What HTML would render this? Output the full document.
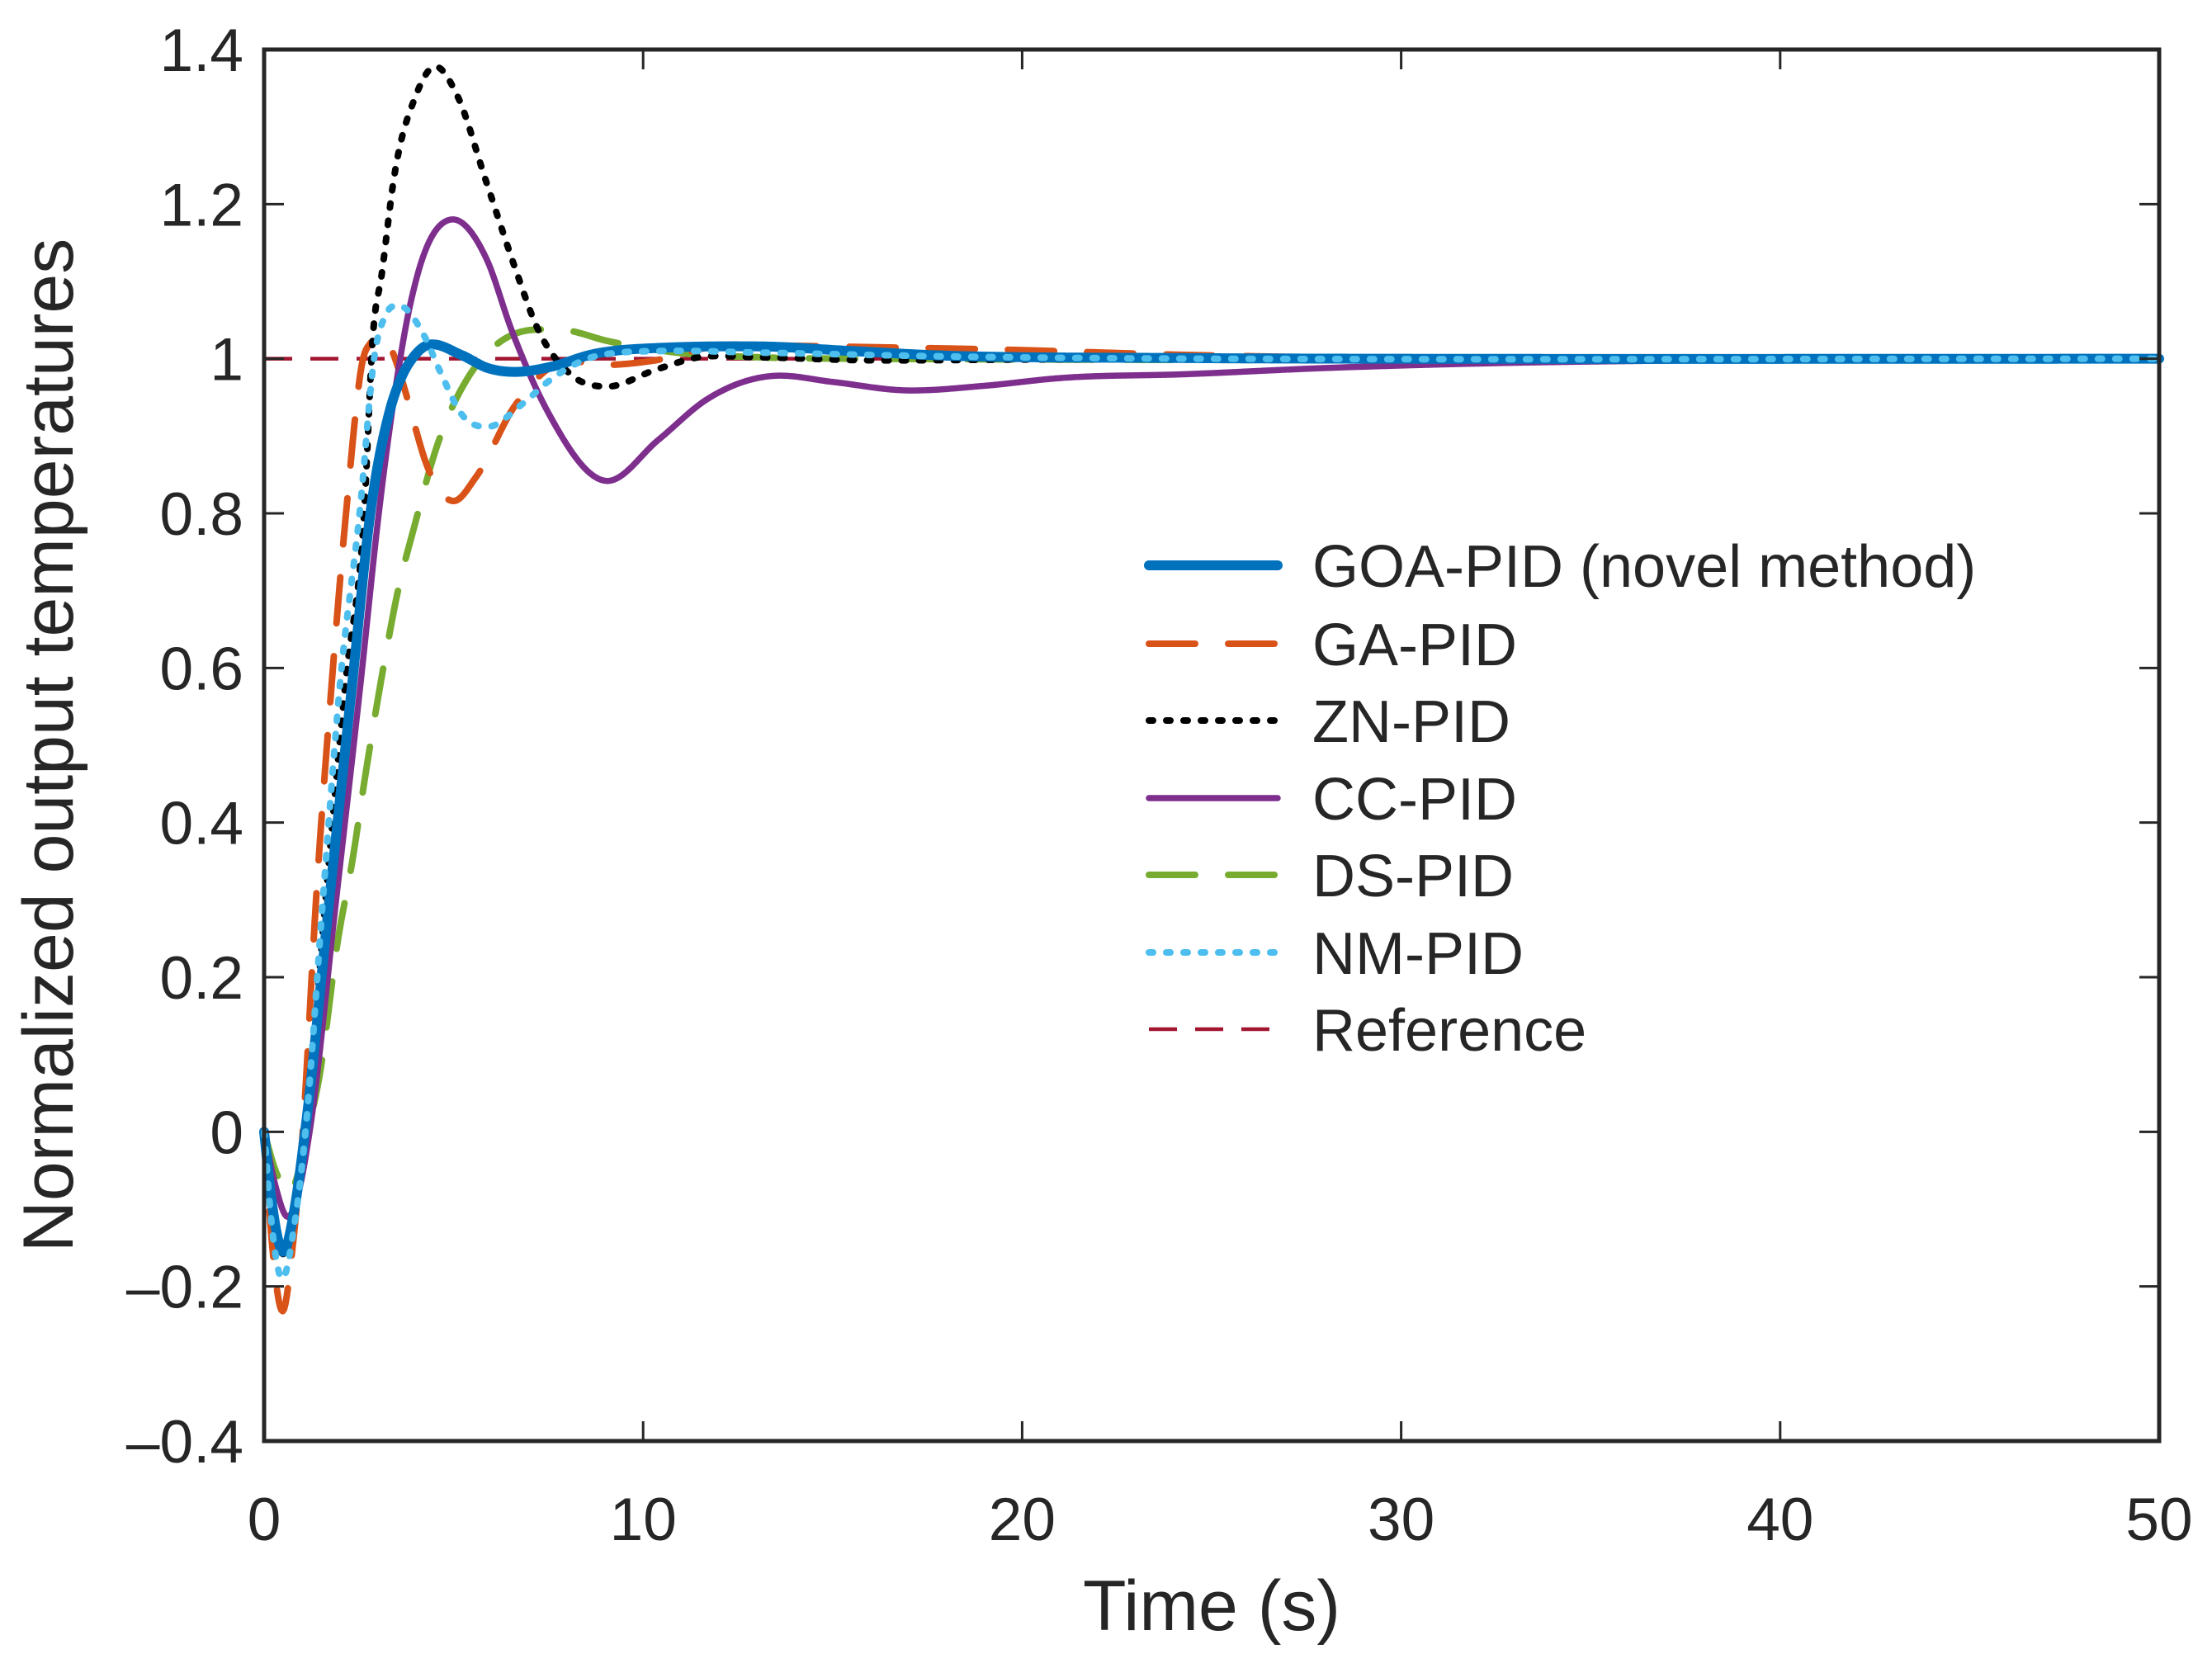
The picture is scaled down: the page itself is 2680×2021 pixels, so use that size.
<!DOCTYPE html>
<html><head><meta charset="utf-8"><style>
html,body{margin:0;padding:0;background:#fff}
svg{display:block}
text{font-family:"Liberation Sans",Arial,sans-serif;fill:#262626}
</style></head><body>
<svg id="chart" width="2680" height="2021" viewBox="0 0 2680 2021" xmlns="http://www.w3.org/2000/svg">
<rect width="2680" height="2021" fill="#fff"/>
<g id="series"></g>
<g id="axes"></g>
<g id="legend"></g>
<text x="1468" y="1975" font-size="86" text-anchor="middle">Time (s)</text>
<text x="0" y="0" font-size="86" text-anchor="middle" transform="translate(88,903) rotate(-90)">Normalized output temperatures</text>
</svg>
<script>
const xTicks=[0,10,20,30,40,50];
const yTicks=[-0.4,-0.2,0,0.2,0.4,0.6,0.8,1,1.2,1.4];
const yTickLabels=["\u20130.4","\u20130.2","0","0.2","0.4","0.6","0.8","1","1.2","1.4"];
const seriesNames=["GOA-PID (novel method)","GA-PID","ZN-PID","CC-PID","DS-PID","NM-PID","Reference"];
const goaT=[0,0.2,0.5,0.8,1.08,1.72,2.32,2.83,3.3,3.66,3.92,4.34,5.2,5.9,6.57,7.6,8.6,10.4,13,15.5,18,24,30,50];
const goaV=[0,-0.09,-0.155,-0.1,0,0.3,0.578,0.81,0.93,0.98,1.001,1.018,1.005,0.988,0.983,0.99,1.005,1.014,1.016,1.01,1.004,1.001,1,1];
const gaT=[0,0.2,0.49,0.75,1.02,1.37,1.78,2.18,2.61,2.8,3.0,3.27,3.7,3.92,4.28,5.0,5.59,6.6,7.9,8.97,10.2,12.2,13.65,16,19.3,24.3,30,50];
const gaV=[0,-0.14,-0.232,-0.15,0,0.3,0.578,0.81,1.0,1.02,1.028,1.02,0.962,0.923,0.864,0.816,0.847,0.938,0.996,0.992,0.997,1.018,1.017,1.015,1.012,1.005,1.001,1];
const znT=[0,0.2,0.5,0.8,1.1,1.62,2.14,2.65,2.87,3.1,3.42,4.0,4.5,5.1,5.84,6.66,7.17,8.08,9.0,10.4,11.65,13,16,20,30,50];
const znV=[0,-0.1,-0.158,-0.11,0,0.3,0.578,0.81,1.03,1.108,1.232,1.34,1.378,1.34,1.232,1.112,1.044,0.98,0.964,0.987,1.003,1.002,0.998,0.999,1,1];
const ccT=[0,0.3,0.62,0.95,1.2,1.9,2.54,3.05,3.59,3.77,4.0,4.92,5.86,6.53,7.5,9.03,10.4,11.7,13.5,15,17,19,21,24.3,28,32.2,38,45,50];
const ccV=[0,-0.07,-0.11,-0.07,0,0.3,0.578,0.81,1.0,1.05,1.1,1.18,1.13,1.037,0.93,0.842,0.895,0.948,0.978,0.97,0.959,0.965,0.975,0.98,0.988,0.994,0.998,1,1];
const dsT=[0,0.3,0.69,0.94,1.15,1.45,1.96,2.32,2.68,3.27,3.48,3.99,4.54,5.41,5.9,7.0,7.9,9.06,11.06,13,16,50];
const dsV=[0,-0.05,-0.078,-0.046,0,0.069,0.252,0.348,0.464,0.634,0.688,0.788,0.884,0.978,1.008,1.037,1.037,1.023,1.007,1.002,1,1];
const nmT=[0,0.2,0.47,0.8,1.09,1.55,2.0,2.54,2.9,3.22,3.53,4.22,4.64,5.23,5.9,6.8,7.56,8.73,10.5,13,18,25,50];
const nmV=[0,-0.12,-0.19,-0.12,0,0.3,0.578,0.81,1.0,1.058,1.069,1.03,0.984,0.927,0.912,0.941,0.973,1.003,1.01,1.008,1.003,1,1];
const refT=[0,50];
const refV=[1,1];

const NS="http://www.w3.org/2000/svg";
const L=320,R=2616,T=60,B=1746;
const xMin=0,xMax=50,yMin=-0.4,yMax=1.4;
function xs(t){return L+(t-xMin)/(xMax-xMin)*(R-L);}
function ys(v){return B-(v-yMin)/(yMax-yMin)*(B-T);}
function mk(tag,attrs,parent){const e=document.createElementNS(NS,tag);for(const k in attrs)e.setAttribute(k,attrs[k]);parent.appendChild(e);return e;}

function smoothCurve(tt,vv,step){
  const n=tt.length,d=[],m=new Array(n).fill(0);
  for(let i=0;i<n-1;i++)d.push((vv[i+1]-vv[i])/(tt[i+1]-tt[i]));
  m[0]=d[0];m[n-1]=d[n-2];
  for(let i=1;i<n-1;i++){
    const h0=tt[i]-tt[i-1],h1=tt[i+1]-tt[i];
    let s=(h1*d[i-1]+h0*d[i])/(h0+h1);
    // limit to avoid large overshoot
    const lim=3*Math.min(Math.abs(d[i-1]),Math.abs(d[i]));
    if(d[i-1]*d[i]>0&&Math.abs(s)>lim)s=Math.sign(s)*lim;
    if(d[i-1]*d[i]>0){m[i]=s;}else{m[i]=s*0.5;}
  }
  const pts=[];
  for(let i=0;i<n-1;i++){
    const h=tt[i+1]-tt[i];const k=Math.max(2,Math.ceil(h/step));
    for(let j=0;j<k;j++){
      const s=j/k,t=tt[i]+s*h;
      const h00=2*s*s*s-3*s*s+1,h10=s*s*s-2*s*s+s,h01=-2*s*s*s+3*s*s,h11=s*s*s-s*s;
      const v=h00*vv[i]+h10*h*m[i]+h01*vv[i+1]+h11*h*m[i+1];
      pts.push(xs(t).toFixed(2)+","+ys(v).toFixed(2));
    }
  }
  pts.push(xs(tt[n-1]).toFixed(2)+","+ys(vv[n-1]).toFixed(2));
  return pts.join(" ");
}

const styles=[
 {c:"#0072BD",w:12,d:"",cap:"round"},
 {c:"#D95319",w:8,d:"56 40",cap:"round"},
 {c:"#000000",w:8,d:"5 16",cap:"round"},
 {c:"#7E2F8E",w:7.5,d:"",cap:"round"},
 {c:"#77AC30",w:8,d:"56 40",cap:"round"},
 {c:"#4DBEEE",w:8,d:"5 16",cap:"round"},
 {c:"#A2142F",w:4.5,d:"34 22",cap:"butt"}
];
const dataT=[goaT,gaT,znT,ccT,dsT,nmT,refT];
const dataV=[goaV,gaV,znV,ccV,dsV,nmV,refV];
const keys=["goa","ga","zn","cc","ds","nm","reference"];
const sg=document.getElementById("series");
const order=[6,4,1,3,2,0,5];
for(const i of order){
  const st=styles[i];
  const p=mk("polyline",{points:smoothCurve(dataT[i],dataV[i],0.04),fill:"none",stroke:st.c,"stroke-width":st.w,"stroke-linecap":st.cap,"stroke-linejoin":"round"},sg);
  if(st.d)p.setAttribute("stroke-dasharray",st.d);
  
  
}

const ax=document.getElementById("axes");
for(let i=0;i<xTicks.length;i++){
  const x=xs(xTicks[i]);
  const a=mk("line",{x1:x,y1:B,x2:x,y2:B-24,stroke:"#262626","stroke-width":3},ax);
  
  
  const b=mk("line",{x1:x,y1:T,x2:x,y2:T+24,stroke:"#262626","stroke-width":3},ax);
  
  
  const tx=mk("text",{x:x,y:1866,"font-size":73,"text-anchor":"middle"},ax);
  tx.textContent=String(xTicks[i]);
  
  
}
for(let i=0;i<yTicks.length;i++){
  const y=ys(yTicks[i]);
  const a=mk("line",{x1:L,y1:y,x2:L+24,y2:y,stroke:"#262626","stroke-width":3},ax);
  
  
  const b=mk("line",{x1:R,y1:y,x2:R-24,y2:y,stroke:"#262626","stroke-width":3},ax);
  
  
  const tx=mk("text",{x:295,y:y+26,"font-size":73,"text-anchor":"end"},ax);
  tx.textContent=yTickLabels[i];
  
  
}
const box=mk("rect",{x:L,y:T,width:R-L,height:B-T,fill:"none",stroke:"#262626","stroke-width":5},ax);



const lg=document.getElementById("legend");
const rowY=[685,780,873,967,1060,1154,1247];
for(let i=0;i<seriesNames.length;i++){
  const st=styles[i];
  const ln=mk("line",{x1:1392,y1:rowY[i],x2:1548,y2:rowY[i],stroke:st.c,"stroke-width":st.w,"stroke-linecap":st.cap},lg);
  if(st.d)ln.setAttribute("stroke-dasharray",st.d);
  
  
  const tx=mk("text",{x:1590,y:rowY[i]+26,"font-size":72,fill:"#000"},lg);
  tx.textContent=seriesNames[i];
  
  
}
</script>
</body></html>
